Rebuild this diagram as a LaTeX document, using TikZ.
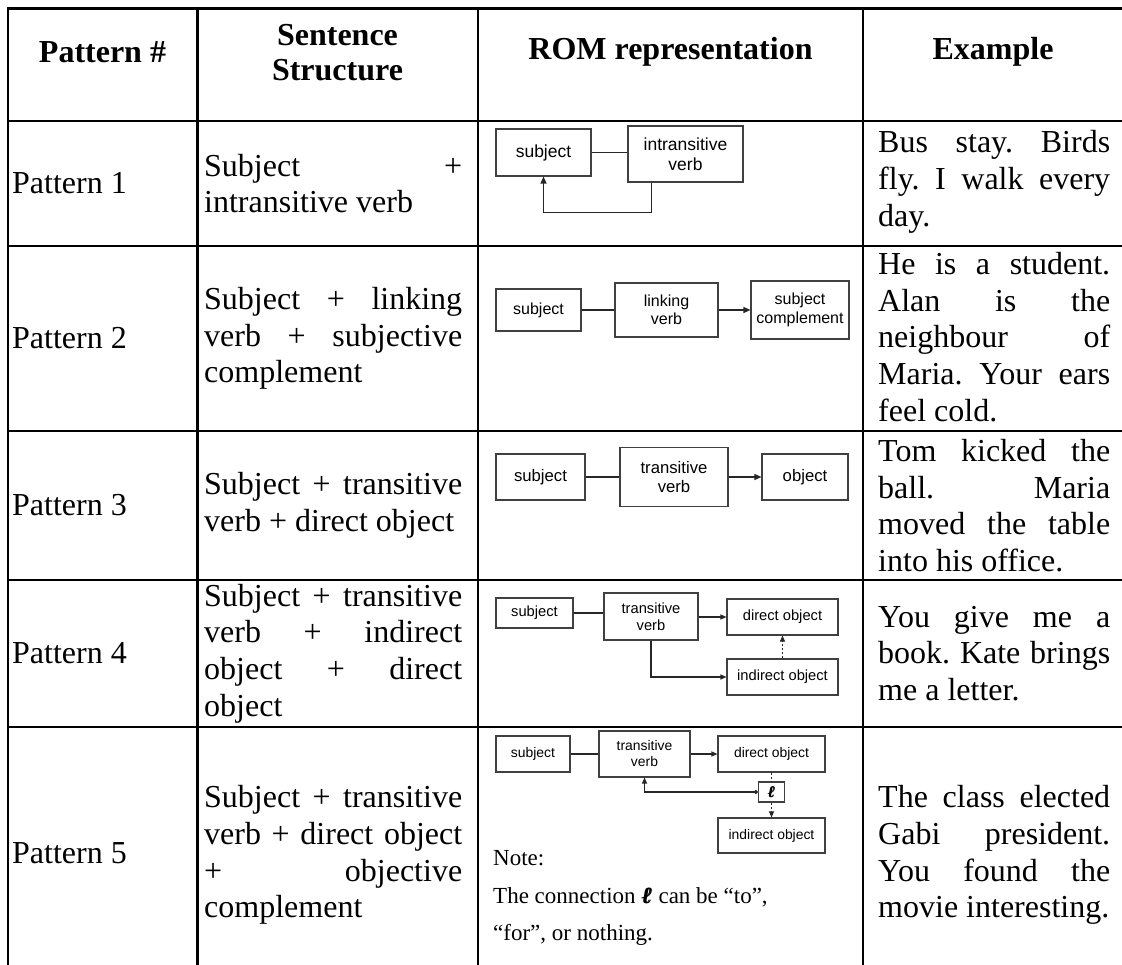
\documentclass[tikz,border=0pt]{standalone}
\usepackage{fontspec}
\setmainfont{Liberation Serif}
\newfontfamily\diagfont{Liberation Sans}
\usetikzlibrary{arrows.meta}
\newlength\structw \setlength\structw{258pt}
\newlength\examplew \setlength\examplew{232pt}
% justified lines of the two text columns: spaces stretch to fill the line
\newcommand\sj[1]{\leavevmode\hbox to\structw{\spaceskip=0.25em plus 1fil\relax#1}}
\newcommand\ej[1]{\leavevmode\hbox to\examplew{\spaceskip=0.25em plus 1fil\relax#1}}
% the connection symbol, set heavy by overprinting
\newcommand\conn{{\bfseries\itshape\rlap{ℓ}\kern.035em\rlap{ℓ}\kern.035em ℓ}}
\begin{document}
\frenchspacing
\begin{tikzpicture}[x=1pt,y=-1pt,
  tabrule/.style={line width=2.6pt},
  celltxt/.style={inner sep=0pt,anchor=west,align=left,font=\fontsize{32}{36.7}\selectfont},
  headtxt/.style={inner sep=0pt,align=center,font=\fontsize{32}{35}\selectfont\bfseries},
  rombox/.style 2 args={draw=black!75,line width=1.1pt,inner sep=0pt,align=center,
    font=\diagfont\fontsize{#1}{#2}\selectfont},
  wireline/.style={line width=1.1pt,draw=black!85},
  arrowed/.style={-{Triangle[length=7pt,width=6pt]}},
  arrowsm/.style={-{Triangle[length=6pt,width=5pt]}},
  dashline/.style={dash pattern=on 2.5pt off 1.5pt},
  notetxt/.style={anchor=base west,inner sep=0pt,font=\fontsize{23}{27}\selectfont},
]
\useasboundingbox (0,0) rectangle (1122,965);

% table rules (right and bottom edges run past the page)
\draw[tabrule] (8,8.5) rectangle (1124,979);
\foreach \yy in {121,246,431,580,727} \draw[tabrule] (8,\yy) -- (1124,\yy);
\foreach \xx in {197.5,478,863} \draw[tabrule] (\xx,8.5) -- (\xx,979);

% header row
\node[headtxt] (hpat) at (102.5,52) {Pattern \#};
\node[headtxt] (hstr) at (337.5,52.5) {Sentence\\Structure};
\node[headtxt] (hrom) at (670.5,52) {ROM representation};
\node[headtxt] (hex)  at (993,52) {Example};

% pattern column
\node[celltxt] (pat1) at (12,183.5) {Pattern 1};
\node[celltxt] (pat2) at (12,338.5) {Pattern 2};
\node[celltxt] (pat3) at (12,505.5) {Pattern 3};
\node[celltxt] (pat4) at (12,653.5) {Pattern 4};
\node[celltxt] (pat5) at (12,853)   {Pattern 5};

% sentence structure column
\node[celltxt] (str1) at (204,183.5) {\sj{Subject +}\\intransitive verb};
\node[celltxt] (str2) at (204,338.5) {\sj{Subject + linking}\\\sj{verb + subjective}\\complement};
\node[celltxt] (str3) at (204,505.5) {\sj{Subject + transitive}\\verb + direct object};
\node[celltxt] (str4) at (204,653.5) {\sj{Subject + transitive}\\\sj{verb + indirect}\\\sj{object + direct}\\object};
\node[celltxt] (str5) at (204,855)   {\sj{Subject + transitive}\\\sj{verb + direct object}\\\sj{+ objective}\\complement};

% example column
\node[celltxt] (ex1) at (878,182) {\ej{Bus stay. Birds}\\\ej{fly. I walk every}\\day.};
\node[celltxt] (ex2) at (878,337) {\ej{He is a student.}\\\ej{Alan is the}\\\ej{neighbour of}\\\ej{Maria. Your ears}\\feel cold.};
\node[celltxt] (ex3) at (878,505.5) {\ej{Tom kicked the}\\\ej{ball. Maria}\\\ej{moved the table}\\into his office.};
\node[celltxt] (ex4) at (878,653.5) {\ej{You give me a}\\\ej{book. Kate brings}\\me a letter.};
\node[celltxt] (ex5) at (878,855)   {\ej{The class elected}\\\ej{Gabi president.}\\\ej{You found the}\\movie interesting.};

% ROM: pattern 1
\node[rombox={17.5}{20},minimum width=95pt,minimum height=47pt] (a1) at (543.5,152.5) {subject};
\node[rombox={17.5}{20},minimum width=115pt,minimum height=56pt] (a2) at (685.5,154) {intransitive\\verb};
\draw[wireline] (a1.east) -- (a1.east -| a2.west);
\draw[wireline,arrowed] ([xshift=24pt]a2.south west) -- ++(0,30) -| (a1.south);

% ROM: pattern 2
\node[rombox={16}{18.4},minimum width=85pt,minimum height=42pt] (b1) at (538.5,310) {subject};
\node[rombox={16}{18.4},minimum width=103pt,minimum height=54pt] (b2) at (666.5,310) {linking\\verb};
\node[rombox={16}{18.4},minimum width=98pt,minimum height=58pt] (b3) at (800,310) {subject\\complement};
\draw[wireline] (b1.east) -- (b2.west);
\draw[wireline,arrowed] (b2.east) -- (b3.west);

% ROM: pattern 3
\node[rombox={16.7}{19.2},minimum width=89pt,minimum height=46pt] (c1) at (540.5,477) {subject};
\node[rombox={16.7}{19.2},minimum width=108pt,minimum height=59pt] (c2) at (674,477) {transitive\\verb};
\node[rombox={16.7}{19.2},minimum width=86pt,minimum height=46pt] (c3) at (805,477) {object};
\draw[wireline] (c1.east) -- (c2.west);
\draw[wireline,arrowed] (c2.east) -- (c3.west);

% ROM: pattern 4
\node[rombox={14.7}{16.9},minimum width=77pt,minimum height=30pt] (d1) at (534.5,613) {subject};
\node[rombox={14.7}{16.9},minimum width=94pt,minimum height=47pt] (d2) at (651,616.5) {transitive\\verb};
\node[rombox={14.7}{16.9},minimum width=111pt,minimum height=36pt] (d3) at (782.5,617) {direct object};
\node[rombox={14.7}{16.9},minimum width=111pt,minimum height=36pt] (d4) at (782.5,677) {indirect object};
\draw[wireline] (d1.east) -- (d1.east -| d2.west);
\draw[wireline,arrowsm] (d2.east |- d3.west) -- (d3.west);
\draw[wireline,arrowsm] (d2.south) |- (d4.west);
\draw[wireline,dashline,arrowsm] (d4.north) -- (d3.south);

% ROM: pattern 5
\node[rombox={13.9}{16},minimum width=74pt,minimum height=36pt] (f1) at (533,754) {subject};
\node[rombox={13.9}{16},minimum width=91pt,minimum height=46pt] (f2) at (644.5,754) {transitive\\verb};
\node[rombox={13.9}{16},minimum width=107pt,minimum height=36pt] (f3) at (771.5,754) {direct object};
\node[rombox={13.9}{16},minimum width=26pt,minimum height=20pt,font=\fontsize{16}{16}\selectfont] (f4) at (771.5,792) {\conn};
\node[rombox={13.9}{16},minimum width=107pt,minimum height=35pt] (f5) at (771.5,835.5) {indirect object};
\draw[wireline] (f1.east) -- (f2.west);
\draw[wireline,arrowsm] (f2.east) -- (f3.west);
\draw[wireline,dashline] (f3.south) -- (f4.north);
\draw[wireline,dashline,arrowsm] (f4.south) -- (f5.north);
\draw[wireline,{Circle[length=4pt]}-{Triangle[length=6pt,width=5pt]}] (f4.west) -| (f2.south);

% note under pattern 5
\node[notetxt] (note1) at (493,865) {Note:};
\node[notetxt] (note2) at (493,903) {The connection \conn{} can be “to”,};
\node[notetxt] (note3) at (493,940) {“for”, or nothing.};
\end{tikzpicture}
\end{document}
